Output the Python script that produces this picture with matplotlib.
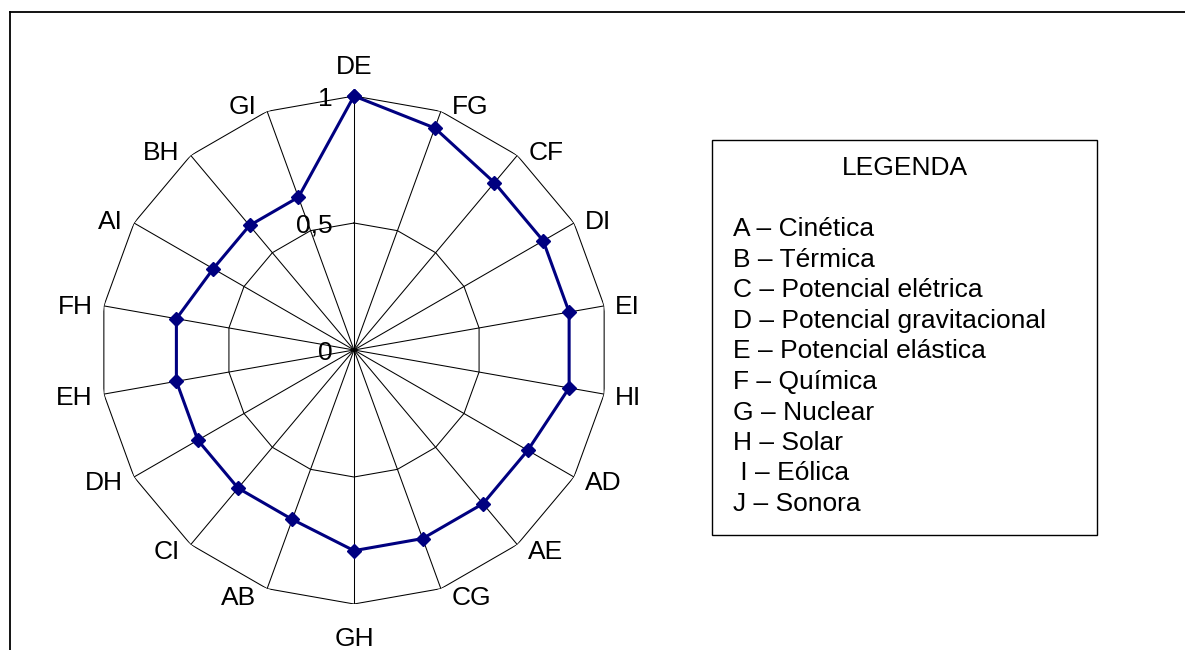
import numpy as np
import matplotlib
matplotlib.use("Agg")
import matplotlib.pyplot as plt
from matplotlib.lines import Line2D
from matplotlib.patches import Rectangle

plt.rcParams['font.family'] = ['Liberation Sans', 'DejaVu Sans']

# data
categories = ["DE", "FG", "CF", "DI", "EI", "HI", "AD", "AE", "CG",
              "GH", "AB", "CI", "DH", "EH", "FH", "AI", "BH", "GI"]
values = [1.0, 0.93, 0.86, 0.86, 0.86, 0.86, 0.79, 0.79, 0.79,
          0.79, 0.71, 0.71, 0.71, 0.71, 0.71, 0.64, 0.64, 0.64]
rings = [0.5, 1.0]
ring_labels = ["0", "0,5", "1"]
ring_label_vals = [0.0, 0.5, 1.0]

legend_title = "LEGENDA"
legend_items = ["A – Cinética", "B – Térmica", "C – Potencial elétrica",
                "D – Potencial gravitacional", "E – Potencial elástica",
                "F – Química", "G – Nuclear", "H – Solar", " I – Eólica",
                "J – Sonora"]

FS = 19
NAVY = "#000080"
W, H = 1185, 650

fig = plt.figure(figsize=(W / 100, H / 100), dpi=100)

# polar axes, centre at (354, 350) px, radius 254 px
cx, cy, R = 354, 350, 254
ax = fig.add_axes([(cx - R) / W, (H - cy - R) / H, 2 * R / W, 2 * R / H],
                  projection="polar")
ax.set_theta_zero_location("N")
ax.set_theta_direction(-1)
ax.set_ylim(0, 1)
ax.grid(False)
ax.set_xticks([])
ax.set_yticks([])
ax.spines["polar"].set_visible(False)
ax.patch.set_alpha(0)

n = len(categories)
theta = np.linspace(0, 2 * np.pi, n, endpoint=False)
theta_closed = np.append(theta, theta[0])

# polygon grid
for r in rings:
    ax.plot(theta_closed, [r] * (n + 1), color="black", lw=0.75, zorder=1)
for t in theta:
    ax.plot([t, t], [0, 1], color="black", lw=0.75, zorder=1)

# series
vals_closed = values + [values[0]]
ax.plot(theta_closed, vals_closed, color=NAVY, lw=2.2, marker="D",
        markersize=7.3, markeredgewidth=1, zorder=3, clip_on=False)

# category labels
for t, lab in zip(theta, categories):
    s, c = np.sin(t), np.cos(t)
    if abs(s) < 1e-6:
        dx, dy, ha = 0, 32 * np.sign(c), "center"
    else:
        dx, dy = 11 * np.sign(s), 7 * c
        ha = "left" if s > 0 else "right"
    ax.annotate(lab, xy=(t, 1.0), xytext=(dx, dy - 9.5),
                textcoords="offset pixels", ha=ha, va="baseline",
                fontsize=FS, annotation_clip=False)

# value labels
for v, lab in zip(ring_label_vals, ring_labels):
    ax.annotate(lab, xy=(0, v), xytext=(-21, -9.5),
                textcoords="offset pixels", ha="right", va="baseline",
                fontsize=FS, annotation_clip=False, zorder=4)

# legend box
x0, x1, y0, y1 = 712, 1097, 140, 535
fig.add_artist(Rectangle((x0 / W, 1 - y1 / H), (x1 - x0) / W, (y1 - y0) / H,
                         transform=fig.transFigure, fill=False,
                         edgecolor="black", lw=1))
fig.text((x0 + x1) / 2 / W, 1 - 175 / H, legend_title, ha="center",
         va="baseline", fontsize=FS)
for i, item in enumerate(legend_items):
    fig.text(733 / W, 1 - (236.5 + i * 30.5) / H, item, ha="left",
             va="baseline", fontsize=FS)

# outer frame (top and left edges visible)
fig.add_artist(Line2D([9.5 / W, 1], [1 - 11.5 / H, 1 - 11.5 / H],
                      transform=fig.transFigure, color="black", lw=1.3))
fig.add_artist(Line2D([9.5 / W, 9.5 / W], [0, 1 - 11.5 / H],
                      transform=fig.transFigure, color="black", lw=1.3))

fig.savefig("out.png", dpi=100)
